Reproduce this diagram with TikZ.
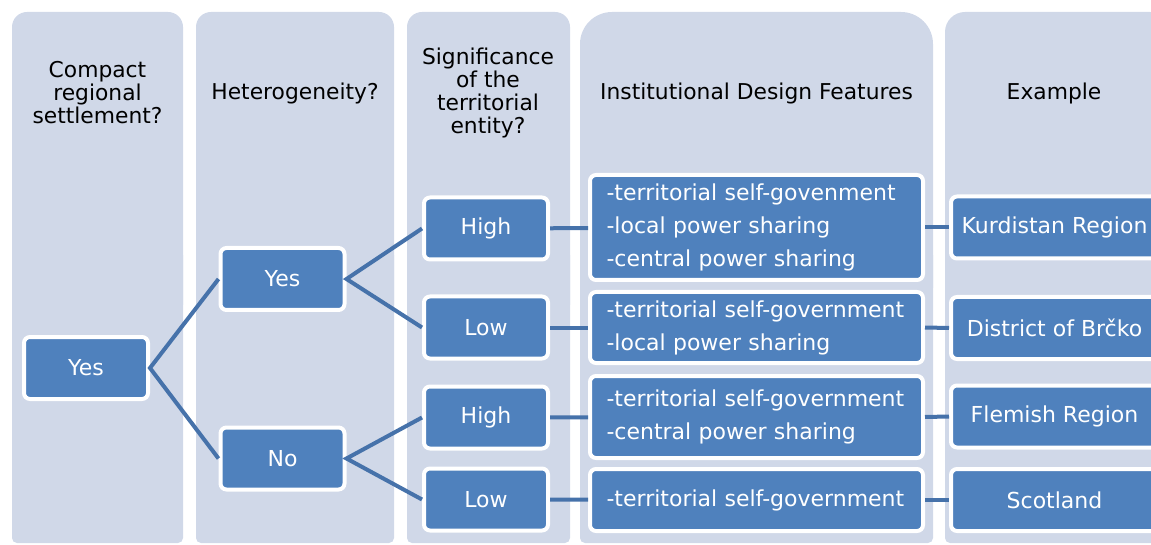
\documentclass[tikz,border=0pt]{standalone}
\usepackage{fontspec}
\setmainfont{DejaVu Sans}

\definecolor{colbg}{HTML}{D0D8E8}
\definecolor{boxblue}{HTML}{4F81BD}
\definecolor{linkblue}{HTML}{4672AA}

\tikzset{
  choice/.style={draw=white, line width=4pt, fill=boxblue, rounded corners=6pt,
    text=white, minimum width=124pt, minimum height=62pt, inner sep=0pt,
    font=\fontsize{22}{33}\selectfont},
  feature/.style={choice, minimum width=333pt, text width=300pt, align=left},
  example/.style={choice, minimum width=207pt},
  head/.style={align=center, font=\fontsize{21.8}{23}\selectfont},
  link/.style={draw=linkblue, line width=4pt}
}

% column background: top radius #3
\newcommand{\colpanel}[3]{%
  \fill[colbg, rounded corners=#3] (#1,12) rectangle (#2,320);
  \fill[colbg, rounded corners=5pt] (#1,250) rectangle (#2,543);
}

\begin{document}
\begin{tikzpicture}[x=1pt, y=-1pt]
    \path[use as bounding box, clip] (0,0) rectangle (1151,545);

    % columns
    \colpanel{12}{183}{15pt}
    \colpanel{196}{394}{15pt}
    \colpanel{407}{570}{15pt}
    \colpanel{580}{933}{32pt}
    \colpanel{945}{1170}{20pt}

    % headers
    \node[head] (h1) at (97.5,93) {Compact\\regional\\settlement?};
    \node[head] (h2) at (295,93) {Heterogeneity?};
    \node[head] (h3) at (488,93) {Significance\\of the\\territorial\\entity?};
    \node[head] (h4) at (756.5,93) {Institutional Design Features};
    \node[head] (h5) at (1054,93) {Example};

    % decisions
    \node[choice] (yes) at (86,368) {Yes};
    \node[choice] (hyes) at (282.5,279) {Yes};
    \node[choice] (hno) at (282.5,458.5) {No};
    \node[choice] (high1) at (486,228.5) {High};
    \node[choice] (low1) at (486,327.5) {Low};
    \node[choice] (high2) at (486,417.5) {High};
    \node[choice] (low2) at (486,499.5) {Low};

    % design features
    \node[feature, minimum height=105pt] (f1) at (756.5,227.5)
      {-territorial self-govenment\\-local power sharing\\-central power sharing};
    \node[feature, minimum height=71pt] (f2) at (756.5,327.5)
      {-territorial self-government\\-local power sharing};
    \node[feature, minimum height=82pt] (f3) at (756.5,417)
      {-territorial self-government\\-central power sharing};
    \node[feature, minimum height=62pt] (f4) at (756.5,500)
      {-territorial self-government};

    % examples
    \node[example] (e1) at (1054.5,227.5) {Kurdistan Region};
    \node[example] (e2) at (1054.5,328) {District of Brčko};
    \node[example] (e3) at (1054.5,416.5) {Flemish Region};
    \node[example] (e4) at (1054.5,500) {Scotland};

    % links
    \draw[link] (hyes.west) -- (yes.east) -- (hno.west);
    \draw[link] (high1.west) -- (hyes.east) -- (low1.west);
    \draw[link] (high2.west) -- (hno.east) -- (low2.west);
    \draw[link] (high1) -- (f1);
    \draw[link] (low1) -- (f2);
    \draw[link] (high2) -- (f3);
    \draw[link] (low2) -- (f4);
    \draw[link] (f1.east) -- (e1.west);
    \draw[link] (f2.east) -- (e2.west);
    \draw[link] (f3.east) -- (e3.west);
    \draw[link] (f4.east) -- (e4.west);
\end{tikzpicture}
\end{document}
